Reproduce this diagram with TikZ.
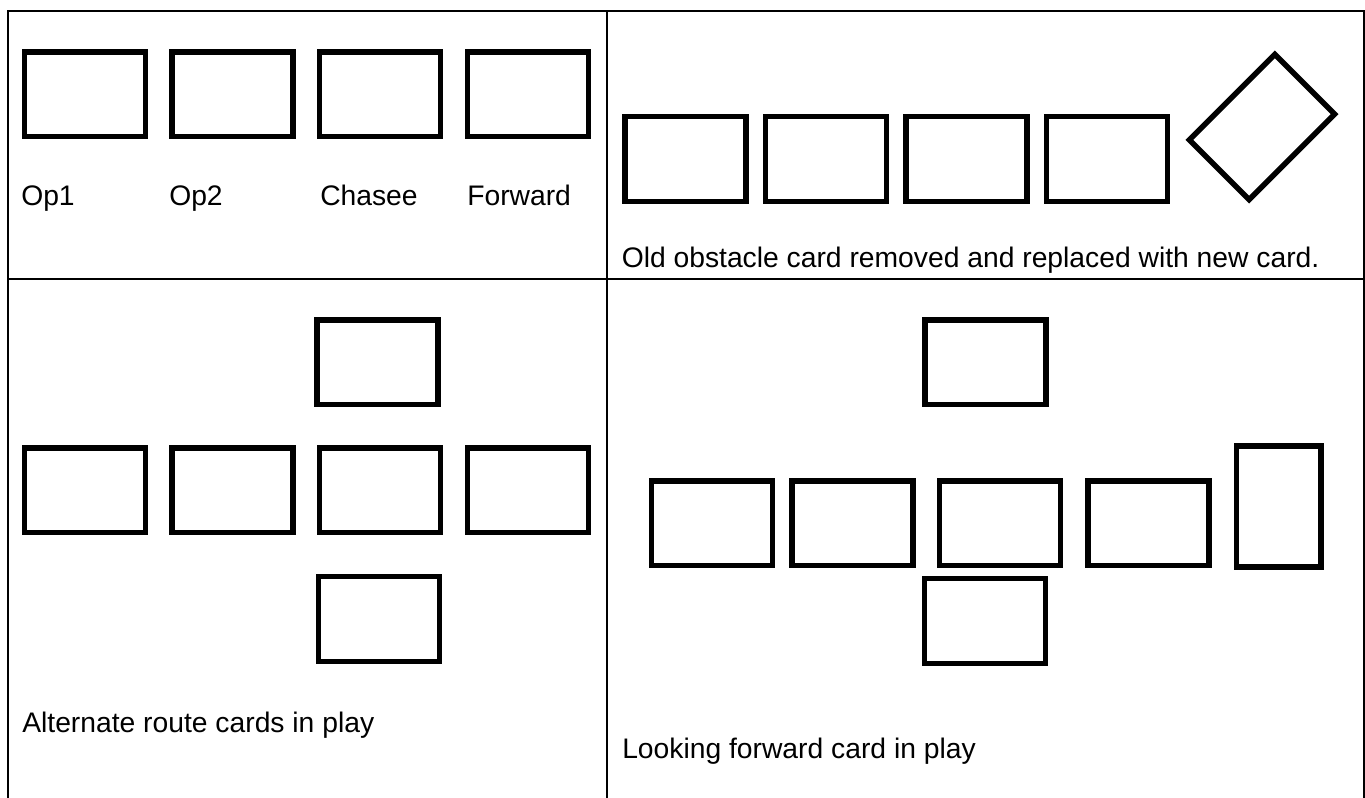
\documentclass[tikz,border=0pt]{standalone}
\usepackage{fontspec}
\setmainfont{Liberation Sans}
\usepackage{tikz}

\begin{document}
\begin{tikzpicture}[x=0.75pt,y=-0.75pt,
  every node/.style={font=\fontsize{21.2}{25}\selectfont},
  card/.style={draw,line width=4.1pt,minimum width=90.75pt,minimum height=63.4pt,inner sep=0pt},
  caption/.style={anchor=base west,inner sep=0pt}]
 \useasboundingbox (0,0) rectangle (1365,798);
 \draw[line width=1.2pt] (8,798) -- (8,11) -- (1364,11) -- (1364,798);
 \draw[line width=1.2pt] (607,11) -- (607,798);
 \draw[line width=1.2pt] (8,279) -- (1364,279);

 \node[card] (op1) at (85,94.5)  {};
 \node[card] (op2) at (232.5,94.5) {};
 \node[card] (chasee) at (380,94.5) {};
 \node[card] (fwd) at (528,94.5) {};
 \node[caption] (op1txt) at (21,206)  {Op1};
 \node[caption] (op2txt) at (169,206) {Op2};
 \node[caption] (chaseetxt) at (320,206) {Chasee};
 \node[caption] (fwdtxt) at (467,206) {Forward};

 \node[card] (oa) at (685.5,159) {};
 \node[card] (ob) at (826,159)   {};
 \node[card] (oc) at (966.5,159) {};
 \node[card] (od) at (1107,159)  {};
 \node[card,rotate=45] (onew) at (1262,127) {};
 \node[caption] (otxt) at (621.5,268) {Old obstacle card removed and replaced with new card.};

 \node[card] (aup) at (377.5,362.5) {};
 \node[card] (aa) at (85,490.5)  {};
 \node[card] (ab) at (232.5,490.5) {};
 \node[card] (ac) at (380,490.5) {};
 \node[card] (ad) at (528,490.5) {};
 \node[card] (adown) at (379,619) {};
 \node[caption] (atxt) at (22,732) {Alternate route cards in play};

 \node[card] (lup) at (985.5,362.5) {};
 \node[card] (la) at (712,523.5)  {};
 \node[card] (lb) at (852.5,523.5) {};
 \node[card] (lc) at (1000,523.5) {};
 \node[card] (ld) at (1148.5,523.5) {};
 \node[card,rotate=90] (lfwd) at (1278.5,506.5) {};
 \node[card] (ldown) at (985,621) {};
 \node[caption] (ltxt) at (622,758) {Looking forward card in play};
\end{tikzpicture}
\end{document}
